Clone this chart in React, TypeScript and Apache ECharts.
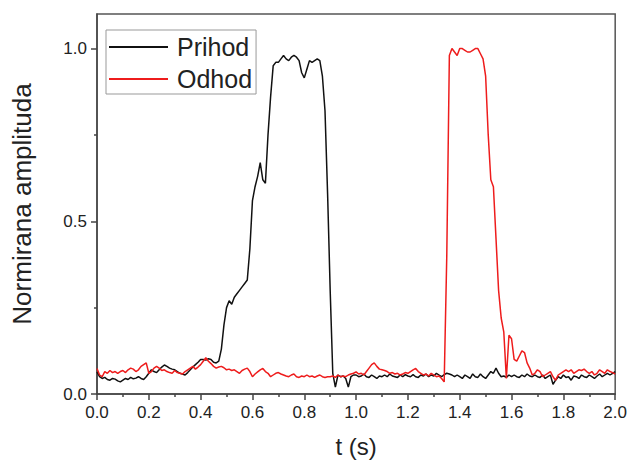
import React, { useEffect, useRef } from "react";
import * as echarts from "echarts";

const tValues: number[] = Array.from({ length: 201 }, (_, i) => Math.round(i) / 100);

const prihod: number[] = [
  0.064, 0.05, 0.045, 0.048, 0.042, 0.04, 0.045, 0.043, 0.038, 0.035,
  0.04, 0.045, 0.042, 0.048, 0.044, 0.046, 0.05, 0.045, 0.042, 0.05,
  0.06, 0.07, 0.065, 0.062, 0.07, 0.078, 0.084, 0.08, 0.075, 0.072,
  0.07, 0.065, 0.06, 0.058, 0.055, 0.062, 0.07, 0.078, 0.085, 0.092,
  0.1, 0.1, 0.098, 0.102, 0.1, 0.092, 0.09, 0.095, 0.13, 0.2,
  0.25, 0.27, 0.26, 0.28, 0.29, 0.3, 0.31, 0.32, 0.33, 0.42,
  0.56, 0.6, 0.63, 0.67, 0.62, 0.61, 0.75, 0.86, 0.95, 0.96,
  0.96, 0.97, 0.98, 0.97, 0.965, 0.975, 0.98, 0.975, 0.965, 0.93,
  0.915, 0.94, 0.965, 0.96, 0.965, 0.97, 0.965, 0.92, 0.82, 0.58,
  0.3, 0.06, 0.02, 0.055, 0.05, 0.052, 0.045, 0.02, 0.05, 0.055,
  0.055, 0.05, 0.052, 0.058, 0.05, 0.048, 0.055, 0.05, 0.045, 0.052,
  0.05, 0.055, 0.05, 0.058, 0.052, 0.05, 0.048, 0.055, 0.05, 0.056,
  0.052, 0.05, 0.056, 0.05, 0.048, 0.055, 0.052, 0.058, 0.05, 0.055,
  0.052, 0.06, 0.055, 0.05, 0.056, 0.06, 0.058, 0.055, 0.05, 0.055,
  0.05, 0.045, 0.055, 0.05, 0.045, 0.058, 0.05, 0.048, 0.058, 0.05,
  0.045, 0.055, 0.065, 0.06, 0.075, 0.06, 0.05, 0.052, 0.048, 0.055,
  0.05, 0.055, 0.05, 0.048, 0.055, 0.05, 0.058, 0.052, 0.05, 0.055,
  0.05, 0.048, 0.055, 0.045, 0.05, 0.055, 0.028, 0.04, 0.05, 0.045,
  0.055, 0.048, 0.05, 0.04, 0.052, 0.05, 0.045, 0.055, 0.05, 0.048,
  0.055, 0.05, 0.045, 0.052, 0.058, 0.05, 0.055, 0.06, 0.055, 0.06, 0.065,
];

const odhod: number[] = [
  0.074, 0.055, 0.05, 0.065, 0.06, 0.068, 0.062, 0.065, 0.06, 0.065,
  0.068, 0.062, 0.07, 0.075, 0.072, 0.065, 0.07, 0.08, 0.085, 0.09,
  0.06, 0.065, 0.075, 0.08, 0.075, 0.068, 0.07, 0.065, 0.062, 0.06,
  0.068, 0.062, 0.06, 0.058, 0.065, 0.07, 0.075, 0.08, 0.072, 0.078,
  0.085, 0.095, 0.105, 0.095, 0.088, 0.08, 0.075, 0.078, 0.08, 0.076,
  0.07, 0.072, 0.068, 0.07, 0.065, 0.06, 0.068, 0.072, 0.075, 0.065,
  0.05, 0.058, 0.064, 0.07, 0.074, 0.065, 0.06, 0.05, 0.055, 0.06,
  0.062, 0.058, 0.055, 0.052, 0.05, 0.055, 0.058, 0.05, 0.048, 0.052,
  0.05, 0.055, 0.05, 0.052, 0.048, 0.052, 0.055, 0.05, 0.048, 0.05,
  0.05, 0.052, 0.048, 0.055, 0.05, 0.052, 0.05, 0.055, 0.058, 0.06,
  0.064, 0.058, 0.06, 0.055, 0.065, 0.075, 0.085, 0.09, 0.08, 0.072,
  0.07, 0.068, 0.065, 0.06, 0.062, 0.058, 0.06, 0.055, 0.058, 0.062,
  0.06, 0.065, 0.07, 0.074, 0.065, 0.06, 0.055, 0.058, 0.052, 0.06,
  0.055, 0.05, 0.052, 0.045, 0.035, 0.4, 0.98, 1.0, 0.99, 0.98,
  1.0, 1.0, 0.995, 0.99, 0.99, 0.995, 1.0, 1.0, 0.985, 0.97,
  0.92, 0.75, 0.62, 0.6, 0.45, 0.3, 0.22, 0.18, 0.045, 0.17,
  0.16, 0.1, 0.095, 0.11, 0.125, 0.12, 0.09, 0.075, 0.055, 0.06,
  0.07, 0.065, 0.05, 0.055, 0.06, 0.065, 0.05, 0.04, 0.055, 0.06,
  0.065, 0.07, 0.065, 0.07, 0.06, 0.065, 0.07, 0.068, 0.072, 0.065,
  0.06, 0.065, 0.055, 0.06, 0.07, 0.065, 0.06, 0.07, 0.065, 0.062, 0.058,
];

const yLabelValues: number[] = [0, 0.5, 1.0];
const yMinorValues: number[] = [0.25, 0.75];

const FONT = "'Liberation Sans', Arial, sans-serif";

export default function App() {
  const ref = useRef<HTMLDivElement>(null);

  useEffect(() => {
    if (!ref.current) return;
    const chart = echarts.init(ref.current, undefined, { renderer: "svg" });
    const axisColor = "#444";
    chart.setOption({
      animation: false,
      backgroundColor: "#fff",
      textStyle: { fontFamily: FONT },
      grid: {
        left: 97,
        right: 13,
        top: 14,
        bottom: 66,
        show: true,
        borderColor: "#555",
        borderWidth: 1.5,
        backgroundColor: "transparent",
      },
      legend: {
        orient: "vertical",
        left: 106,
        top: 30,
        padding: [4, 4, 2, 3],
        itemGap: 6,
        itemWidth: 59,
        itemHeight: 2,
        icon: "rect",
        borderColor: "#999",
        borderWidth: 1,
        textStyle: {
          fontFamily: FONT,
          fontSize: 25,
          fontWeight: "normal",
          color: "#222",
          lineHeight: 26,
          padding: [0, 0, 0, 4],
        },
        data: [
          { name: "Prihod", itemStyle: { color: "#111" } },
          { name: "Odhod", itemStyle: { color: "#ee1c1c" } },
        ],
      },
      xAxis: {
        type: "value",
        min: 0,
        max: 2,
        interval: 0.2,
        name: "t (s)",
        nameLocation: "middle",
        nameGap: 40,
        nameTextStyle: { fontFamily: FONT, fontSize: 24, color: "#222" },
        axisLine: { show: true, lineStyle: { color: axisColor, width: 1.5 } },
        axisTick: { show: true, inside: false, length: 6, lineStyle: { color: axisColor, width: 1.5 } },
        minorTick: { show: true, splitNumber: 2, length: 3, lineStyle: { color: axisColor, width: 1.5 } },
        splitLine: { show: false },
        axisLabel: {
          fontFamily: FONT,
          fontSize: 17,
          color: "#222",
          margin: 10,
          formatter: (v: number) => v.toFixed(1),
        },
      },
      yAxis: [
        {
          type: "value",
          min: 0,
          max: 1.1,
          interval: 0.5,
          name: "Normirana amplituda",
          nameLocation: "middle",
          nameGap: 62,
          nameTextStyle: { fontFamily: FONT, fontSize: 26, color: "#222" },
          axisLine: { show: true, lineStyle: { color: axisColor, width: 1.5 } },
          axisTick: {
            show: true,
            length: 6,
            customValues: yLabelValues,
            lineStyle: { color: axisColor, width: 1.5 },
          },
          splitLine: { show: false },
          axisLabel: {
            fontFamily: FONT,
            fontSize: 17,
            color: "#222",
            margin: 10,
            customValues: yLabelValues,
            formatter: (v: number) => v.toFixed(1),
          },
        },
        {
          type: "value",
          position: "left",
          min: 0,
          max: 1.1,
          axisLine: { show: false },
          axisTick: {
            show: true,
            length: 3,
            customValues: yMinorValues,
            lineStyle: { color: axisColor, width: 1.5 },
          },
          axisLabel: { show: false },
          splitLine: { show: false },
        },
      ],
      series: [
        {
          name: "Prihod",
          type: "line",
          data: tValues.map((t, i) => [t, prihod[i]]),
          symbol: "none",
          smooth: false,
          lineStyle: { color: "#111", width: 1.5 },
          itemStyle: { color: "#111" },
          z: 2,
        },
        {
          name: "Odhod",
          type: "line",
          data: tValues.map((t, i) => [t, odhod[i]]),
          symbol: "none",
          smooth: false,
          lineStyle: { color: "#ee1c1c", width: 1.5 },
          itemStyle: { color: "#ee1c1c" },
          z: 3,
        },
      ],
    });
    return () => chart.dispose();
  }, []);

  return <div ref={ref} style={{ width: 630, height: 463, position: "absolute", left: 0, top: 0 }} />;
}
